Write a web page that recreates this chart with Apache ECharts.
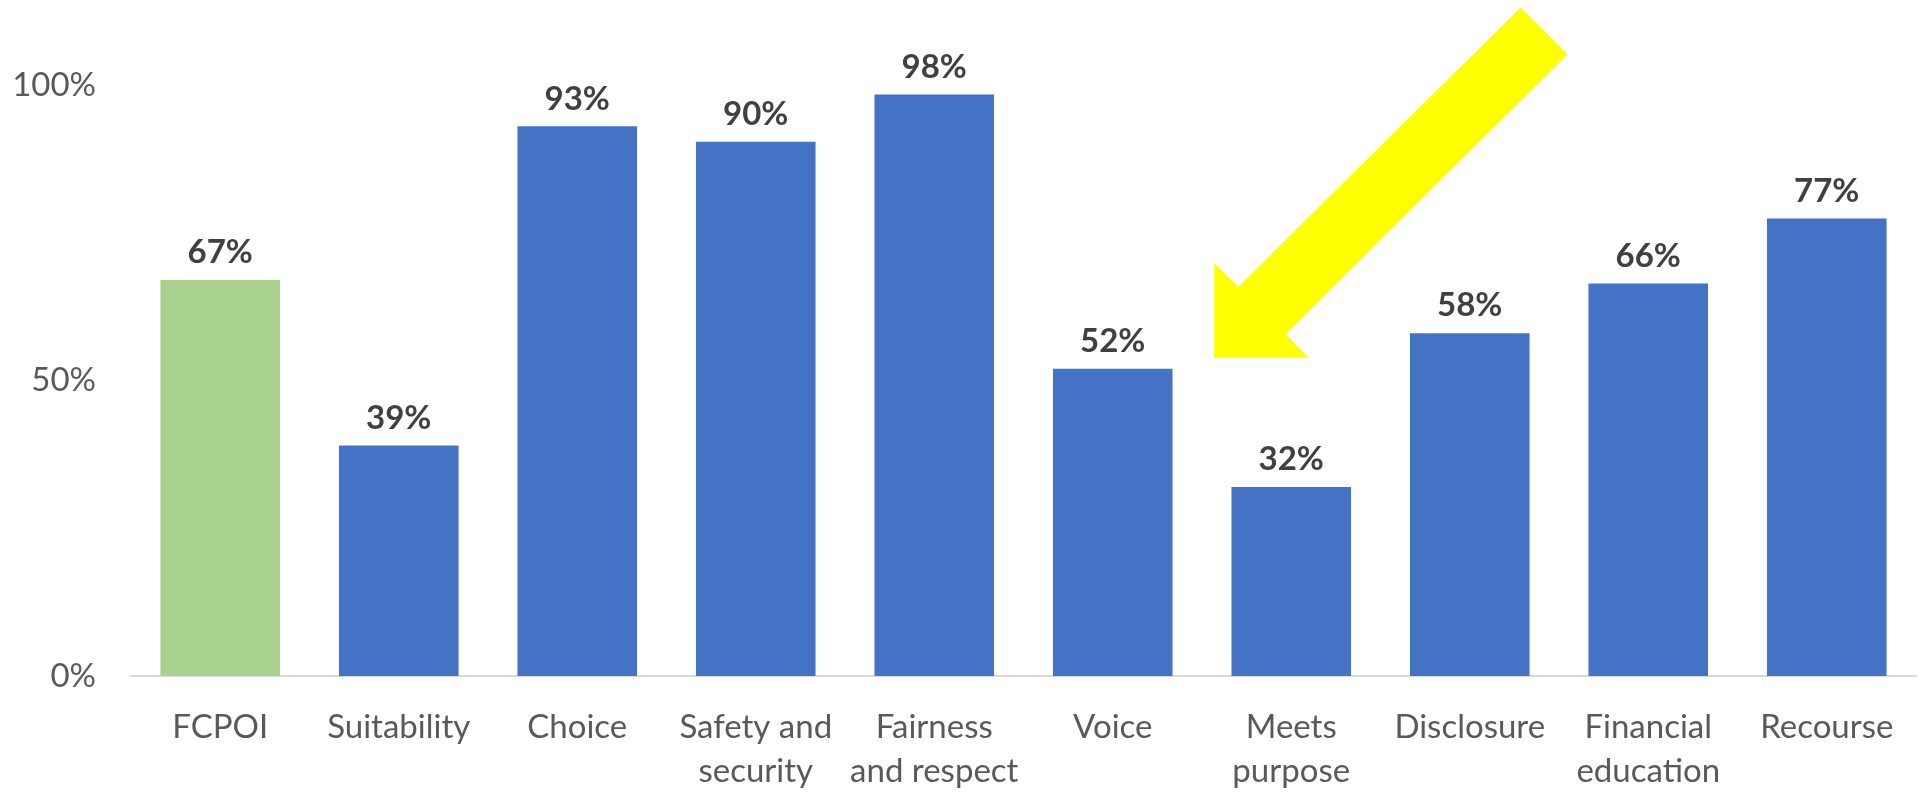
<!DOCTYPE html>
<html>
<head>
<meta charset="utf-8">
<script src="https://cdn.jsdelivr.net/npm/echarts@6/dist/echarts.min.js"></script>
<style>
html,body{margin:0;padding:0;background:#fff;}
#chart{width:1921px;height:793px;}
</style>
</head>
<body>
<div id="chart"></div>
<script>
const categories = ['FCPOI', 'Suitability', 'Choice', 'Safety and\nsecurity', 'Fairness\nand respect', 'Voice', 'Meets\npurpose', 'Disclosure', 'Financial\neducation', 'Recourse'];
const values = [0.67, 0.39, 0.93, 0.904, 0.984, 0.52, 0.32, 0.58, 0.664, 0.774];
const barColors = ['#A9D18E', '#4472C4', '#4472C4', '#4472C4', '#4472C4', '#4472C4', '#4472C4', '#4472C4', '#4472C4', '#4472C4'];
const yTicks = [0, 0.5, 1];

const FONT = 'Lato, "Open Sans", sans-serif';
const chart = echarts.init(document.getElementById('chart'));
chart.setOption({
  animation: false,
  grid: { left: 131, right: 5, top: 85, bottom: 112, containLabel: false },
  xAxis: {
    type: 'category',
    data: categories,
    axisLine: { lineStyle: { color: '#D9D9D9', width: 2 } },
    axisTick: { show: false },
    axisLabel: { interval: 0, color: '#595959', fontFamily: FONT, fontSize: 33, lineHeight: 44, margin: 29 }
  },
  yAxis: {
    type: 'value',
    min: 0, max: 1, interval: 0.5,
    splitLine: { show: false },
    axisLine: { show: false },
    axisTick: { show: false },
    axisLabel: {
      color: '#595959', fontFamily: FONT, fontSize: 33, margin: 35,
      formatter: v => Math.round(v * 100) + '%'
    }
  },
  series: [{
    type: 'bar',
    data: values.map((v, i) => ({ value: v, itemStyle: { color: barColors[i] } })),
    barWidth: '67%',
    label: {
      show: true, position: 'top', distance: 11,
      color: '#404040', fontFamily: FONT, fontSize: 33, fontWeight: 'bold',
      formatter: p => Math.round(p.value * 100) + '%'
    }
  }],
  graphic: [{
    type: 'polygon',
    shape: { points: [[1520.7, 7.3], [1567.3, 54.3], [1285.7, 334], [1309, 357.7], [1214.3, 357.7], [1214.3, 263], [1238.3, 286.7]] },
    style: { fill: '#FFFF00' },
    z: 100
  }]
});
</script>
</body>
</html>
